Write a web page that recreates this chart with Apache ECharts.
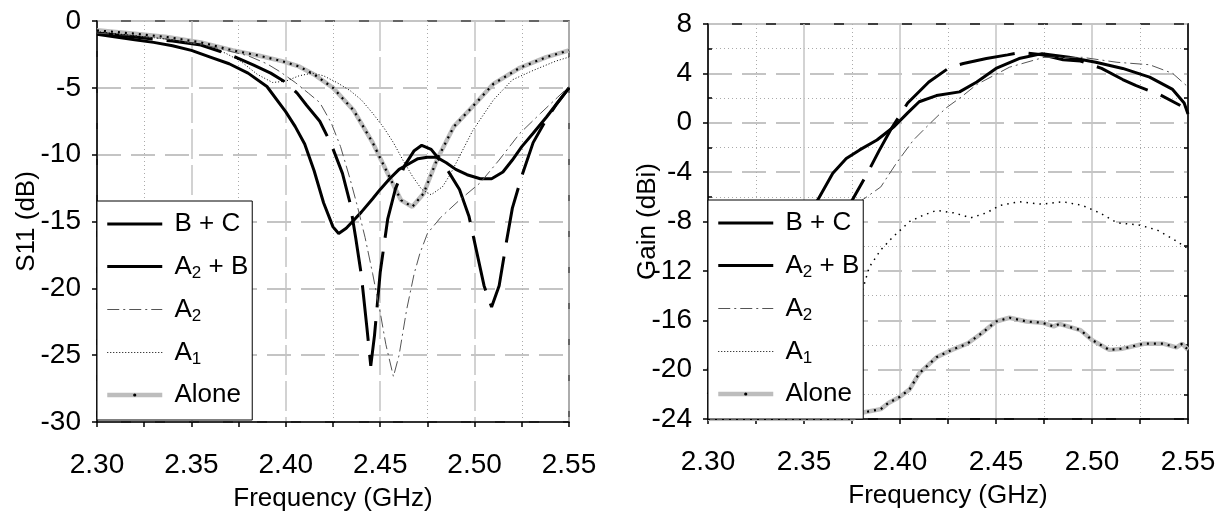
<!DOCTYPE html>
<html>
<head>
<meta charset="utf-8">
<script src="https://cdn.jsdelivr.net/npm/echarts@6/dist/echarts.min.js"></script>
<style>
  html, body { margin: 0; padding: 0; background: #fff; }
  #chart { width: 1229px; height: 519px; }
</style>
</head>
<body>
<div id="chart"></div>
<script>
// ---- left panel: S11 (dB) ----
var bcF = [2.300,2.310,2.320,2.330,2.340,2.350,2.360,2.370,2.380,2.390,2.400,2.405,2.410,2.415,2.420,2.425,2.428,2.432,2.436,2.440,2.446,2.450,2.455,2.460,2.465,2.470,2.475,2.480,2.485,2.490,2.496,2.503,2.509,2.515,2.520,2.525,2.531,2.538,2.544,2.550];
var bcS = [-1.0,-1.2,-1.4,-1.6,-1.85,-2.2,-2.7,-3.2,-3.9,-4.9,-6.8,-7.9,-9.2,-11.2,-13.6,-15.4,-15.9,-15.5,-14.9,-14.3,-13.3,-12.6,-11.8,-11.1,-10.7,-10.3,-10.2,-10.2,-10.6,-11.1,-11.5,-11.8,-11.8,-11.3,-10.4,-9.4,-8.4,-7.2,-6.1,-5.0];

var abF = [2.300,2.320,2.340,2.355,2.370,2.383,2.392,2.400,2.406,2.411,2.418,2.424,2.430,2.434,2.437,2.440,2.443,2.445,2.447,2.450,2.454,2.458,2.463,2.468,2.472,2.477,2.485,2.492,2.497,2.501,2.505,2.509,2.513,2.517,2.520,2.525,2.531,2.537,2.543,2.550];
var abS = [-0.9,-1.2,-1.5,-1.8,-2.5,-3.3,-3.9,-4.6,-5.4,-6.3,-7.5,-9.2,-11.4,-13.6,-16.2,-19.0,-23.0,-25.8,-23.5,-18.8,-14.8,-12.6,-10.8,-9.7,-9.3,-9.6,-11.0,-12.6,-14.6,-17.2,-19.8,-21.4,-19.8,-16.4,-14.0,-11.6,-9.1,-7.6,-6.3,-5.0];

var a2F = [2.300,2.320,2.340,2.360,2.380,2.390,2.397,2.405,2.412,2.418,2.424,2.429,2.434,2.438,2.442,2.446,2.450,2.453,2.457,2.460,2.464,2.468,2.471,2.475,2.482,2.492,2.503,2.513,2.524,2.535,2.544,2.550];
var a2S = [-0.9,-1.1,-1.4,-1.9,-2.6,-3.2,-3.8,-4.6,-5.4,-6.1,-7.6,-9.4,-11.8,-13.9,-16.2,-18.9,-21.8,-24.2,-26.6,-25.0,-21.6,-18.9,-17.4,-15.9,-14.7,-13.4,-12.1,-10.4,-8.4,-6.9,-5.7,-4.9];

var a1F = [2.300,2.320,2.340,2.358,2.368,2.376,2.385,2.393,2.400,2.407,2.414,2.420,2.427,2.434,2.440,2.446,2.452,2.457,2.462,2.467,2.472,2.477,2.483,2.487,2.491,2.499,2.510,2.520,2.531,2.543,2.550];
var a1S = [-0.8,-1.1,-1.4,-1.9,-2.4,-3.0,-4.0,-4.6,-4.5,-4.1,-3.9,-4.1,-4.6,-5.2,-5.9,-6.9,-8.0,-9.1,-10.4,-11.6,-12.6,-13.0,-12.4,-11.5,-10.4,-8.2,-5.9,-4.4,-3.7,-3.0,-2.7];

var alF = [2.300,2.320,2.337,2.355,2.372,2.386,2.398,2.407,2.415,2.425,2.436,2.446,2.455,2.461,2.467,2.473,2.480,2.489,2.499,2.510,2.524,2.538,2.550];
var alS = [-0.7,-0.95,-1.2,-1.6,-2.2,-2.6,-3.0,-3.4,-4.0,-5.0,-6.7,-9.1,-11.7,-13.4,-13.9,-12.9,-10.4,-7.9,-6.4,-4.7,-3.5,-2.7,-2.2];

// ---- right panel: Gain (dBi) ----
var gbcF = [2.300,2.330,2.345,2.357,2.365,2.372,2.379,2.388,2.397,2.404,2.410,2.419,2.431,2.440,2.450,2.462,2.474,2.488,2.502,2.516,2.530,2.542,2.548,2.550];
var gbcS = [-20,-12,-8.6,-6.3,-4.1,-2.9,-2.2,-1.4,-0.3,0.8,1.7,2.2,2.5,3.3,4.4,5.2,5.6,5.3,4.9,4.4,3.7,2.7,1.6,0.7];

var gabF = [2.300,2.340,2.360,2.375,2.383,2.389,2.395,2.404,2.415,2.426,2.433,2.445,2.456,2.463,2.474,2.485,2.494,2.505,2.516,2.523,2.535,2.546];
var gabS = [-22,-14,-9,-6.3,-4.1,-2.3,-0.6,1.6,3.3,4.5,4.8,5.2,5.5,5.7,5.5,5.1,5.0,4.4,3.5,3.0,2.3,1.4];

var ga2F = [2.300,2.350,2.370,2.380,2.390,2.398,2.407,2.416,2.424,2.432,2.440,2.457,2.475,2.495,2.513,2.530,2.542,2.550];
var ga2S = [-22,-12,-8,-6.3,-5.2,-3.3,-1.4,0.0,1.2,2.1,3.1,4.5,5.3,5.3,4.9,4.7,4.0,2.9];

var ga1F = [2.300,2.340,2.370,2.380,2.384,2.390,2.396,2.405,2.412,2.419,2.428,2.437,2.445,2.452,2.462,2.474,2.485,2.495,2.504,2.513,2.525,2.534,2.542,2.550];
var ga1S = [-20,-17,-15,-13.8,-11.7,-10.3,-9.3,-8.0,-7.5,-7.1,-7.3,-7.7,-7.3,-6.7,-6.4,-6.6,-6.4,-6.7,-7.3,-8.1,-8.3,-8.7,-9.4,-10.2];

var galF = [2.300,2.340,2.375,2.380,2.390,2.394,2.400,2.405,2.410,2.419,2.427,2.435,2.443,2.450,2.457,2.466,2.474,2.480,2.483,2.494,2.500,2.509,2.516,2.527,2.537,2.544,2.547,2.550];
var galS = [-24,-24,-24,-23.5,-23.2,-22.7,-22.2,-21.6,-20.3,-19.0,-18.4,-17.9,-17.0,-16.1,-15.8,-16.1,-16.2,-16.5,-16.3,-16.8,-17.6,-18.4,-18.3,-17.9,-17.9,-18.2,-17.9,-18.4];

var seriesNames = ['B+C', 'A2+B', 'A2', 'A1', 'Alone'];
var legendText = {
    'B+C': ' B + C',
    'A2+B': ' A{s|2} + B',
    'A2': ' A{s|2}',
    'A1': ' A{s|1}',
    'Alone': ' Alone'
};

var FONT = '"Liberation Sans", Arial, sans-serif';

function pairs(f, v) {
    return f.map(function (x, i) { return [x, v[i]]; });
}

var lineLook = {
    'B+C':   { color: '#000', width: 3, type: 'solid' },
    'A2+B':  { color: '#000', width: 3, type: [56, 14] },
    'A2':    { color: '#555', width: 1, type: [12, 4, 2, 4] },
    'A1':    { color: '#000', width: 1, type: [1, 2] },
    'Alone': { color: '#bdbdbd', width: 4.5, type: 'solid' }
};

function makeSeries(name, f, v, gi, a1dash) {
    var ls = Object.assign({}, lineLook[name]);
    if (name === 'A1' && a1dash) { ls.type = a1dash; ls.width = 1.5; }
    var s = {
        name: name, type: 'line', xAxisIndex: gi, yAxisIndex: gi,
        data: pairs(f, v), showSymbol: false, symbol: 'circle', symbolSize: 3,
        lineStyle: ls, itemStyle: { color: 'rgba(0,0,0,0)' },
        emphasis: { disabled: true }, silent: true, animation: false,
        z: name === 'Alone' ? 2 : 3
    };
    if (name === 'Alone') s.itemStyle = { color: '#000' };
    return s;
}

function aloneDots(f, v, gi) {
    return {
        name: 'AloneDots', type: 'line', xAxisIndex: gi, yAxisIndex: gi,
        data: pairs(f, v), showSymbol: false, symbol: 'none',
        lineStyle: { color: '#000', width: 2.2, type: [2, 5] },
        silent: true, animation: false, z: 2
    };
}

function xAxis(gi, majorType) {
    return {
        type: 'value', gridIndex: gi, min: 2.30, max: 2.55, interval: 0.05,
        name: 'Frequency (GHz)', nameLocation: 'middle', nameGap: 64, nameMoveOverlap: false,
        nameTextStyle: { fontFamily: FONT, fontSize: 26, color: '#000' },
        axisLine: { onZero: false, lineStyle: { color: '#000', width: 1.5 } },
        axisTick: { show: true, length: 5, lineStyle: { color: '#000', width: 1.5 } },
        minorTick: { show: true, splitNumber: 2, length: 5, lineStyle: { color: '#000', width: 1.5 } },
        axisLabel: { formatter: function (v) { return v.toFixed(2); }, fontFamily: FONT, fontSize: 28, color: '#000', margin: 29 },
        splitLine: { show: true, lineStyle: { color: '#c4c4c4', width: 1.5, type: majorType } },
        minorSplitLine: { show: true, lineStyle: { color: '#aaa', width: 1, type: [1, 3] } }
    };
}

var option = {
    backgroundColor: '#fff',
    animation: false,
    grid: [
        { left: 97, top: 21, width: 472, height: 401, show: true, borderColor: '#333', borderWidth: 1.5 },
        { left: 708, top: 24, width: 480, height: 395, show: true, borderColor: '#000', borderWidth: 1.5 }
    ],
    xAxis: [xAxis(0, [30, 6]), xAxis(1, 'solid')],
    yAxis: [
        {
            type: 'value', gridIndex: 0, min: -30, max: 0, interval: 5,
            name: 'S11 (dB)', nameLocation: 'middle', nameGap: 57, nameMoveOverlap: false,
            nameTextStyle: { fontFamily: FONT, fontSize: 26, color: '#000' },
            axisLine: { lineStyle: { color: '#000', width: 1.5 } },
            axisTick: { show: true, length: 5, lineStyle: { color: '#000', width: 1.5 } },
            axisLabel: { fontFamily: FONT, fontSize: 28, color: '#000', margin: 16 },
            splitLine: { show: true, lineStyle: { color: '#c4c4c4', width: 2, type: [24, 10] } }
        },
        {
            type: 'value', gridIndex: 1, min: -24, max: 8, interval: 4,
            name: 'Gain (dBi)', nameLocation: 'middle', nameGap: 47, nameMoveOverlap: false,
            nameTextStyle: { fontFamily: FONT, fontSize: 26, color: '#000' },
            axisLine: { lineStyle: { color: '#000', width: 1.5 } },
            axisTick: { show: true, length: 5, lineStyle: { color: '#000', width: 1.5 } },
            minorTick: { show: true, splitNumber: 2, length: -4, lineStyle: { color: '#000', width: 1.5 } },
            axisLabel: { fontFamily: FONT, fontSize: 28, color: '#000', margin: 16 },
            splitLine: { show: true, lineStyle: { color: '#c4c4c4', width: 2, type: [24, 10] } },
            minorSplitLine: { show: true, lineStyle: { color: '#aaa', width: 1, type: [1, 3] } }
        },
        {
            type: 'value', gridIndex: 1, min: -24, max: 8, interval: 4, position: 'right',
            axisLine: { show: true, lineStyle: { color: '#000', width: 1.5 } },
            axisTick: { show: false },
            minorTick: { show: true, splitNumber: 2, length: -4, lineStyle: { color: '#000', width: 1.5 } },
            axisLabel: { show: false },
            splitLine: { show: false }
        }
    ],
    legend: [97, 708].map(function (lx, i) {
        return {
            data: seriesNames, orient: 'vertical', left: lx, top: i === 0 ? 201 : 200,
            itemWidth: 55, itemHeight: 4, itemGap: 12,
            padding: [8, 4, 10, 8],
            backgroundColor: '#fff', borderColor: '#000', borderWidth: 1, borderRadius: 0,
            selectedMode: false,
            lineStyle: { width: 'inherit' },
            formatter: function (n) { return legendText[n]; },
            textStyle: {
                fontFamily: FONT, fontSize: 26, color: '#000', lineHeight: 30,
                rich: { s: { fontFamily: FONT, fontSize: 17, lineHeight: 17, padding: [14, 0, 0, 0], color: '#000' } }
            }
        };
    }),
    series: [
        makeSeries('B+C', bcF, bcS, 0),
        makeSeries('A2+B', abF, abS, 0),
        makeSeries('A2', a2F, a2S, 0),
        makeSeries('A1', a1F, a1S, 0),
        makeSeries('Alone', alF, alS, 0),
        aloneDots(alF, alS, 0),
        makeSeries('B+C', gbcF, gbcS, 1),
        makeSeries('A2+B', gabF, gabS, 1),
        makeSeries('A2', ga2F, ga2S, 1),
        makeSeries('A1', ga1F, ga1S, 1, [1.5, 5]),
        makeSeries('Alone', galF, galS, 1),
        aloneDots(galF, galS, 1)
    ]
};

var chart = echarts.init(document.getElementById('chart'), null, { renderer: 'canvas' });
chart.setOption(option);
</script>
</body>
</html>
